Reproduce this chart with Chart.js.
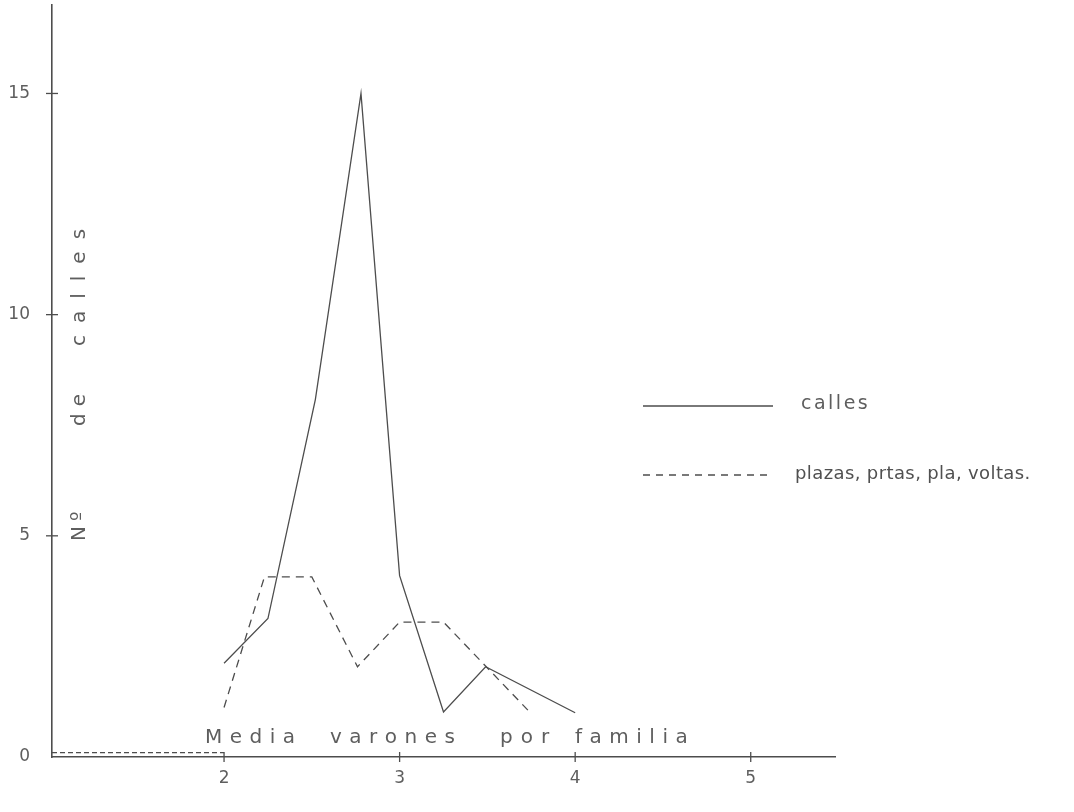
<!DOCTYPE html>
<html>
<head>
<meta charset="utf-8">
<script src="https://cdn.jsdelivr.net/npm/chart.js@4.4.1/dist/chart.umd.min.js"></script>
<style>
html,body{margin:0;padding:0;background:#fff;}
#wrap{width:1074px;height:812px;}
</style>
</head>
<body>
<div id="wrap"><canvas id="c" width="1074" height="812"></canvas></div>
<script>
// ---- data ----
const callesX = [2, 2.25, 2.52, 2.78, 3, 3.25, 3.49, 4];
const callesY = [2.12, 3.13, 8.08, 15, 4.1, 1.02, 2.04, 1.0];
const plazasX = [2, 2.23, 2.5, 2.76, 3, 3.25, 3.74];
const plazasY = [1.12, 4.07, 4.07, 2.04, 3.05, 3.05, 1.02];
const baseX = [1.02, 2];
const baseY = [0.1, 0.1];
const xTicks = [2, 3, 4, 5];
const yTicks = [0, 5, 10, 15];
const seriesLabels = ['calles', 'plazas, prtas, pla, voltas.'];
const xTitleWords = ['Media', 'varones', 'por', 'familia'];
const yTitleWords = ['Nº', 'de', 'calles'];

const INK = '#4d4d4d';
const TXT = '#5e5e5e';
const FONT = '"DejaVu Sans", sans-serif';

function pts(xs, ys){ return xs.map((x,i)=>({x:x, y:ys[i]})); }

function spacedText(ctx, str, x, y, spacing, spaceW){
  let cx = x;
  for (const ch of str){
    if (ch === ' '){ cx += spaceW; continue; }
    ctx.fillText(ch, cx, y);
    cx += ctx.measureText(ch).width + spacing;
  }
  return cx;
}

const decor = {
  id: 'decor',
  afterDraw(chart){
    const ctx = chart.ctx;
    const xs = chart.scales.x, ys = chart.scales.y;
    const area = chart.chartArea;
    ctx.save();
    // tick marks crossing the axes
    ctx.strokeStyle = INK; ctx.lineWidth = 1.3;
    xTicks.forEach(v=>{
      const px = xs.getPixelForValue(v);
      ctx.beginPath(); ctx.moveTo(px, area.bottom-5); ctx.lineTo(px, area.bottom+5); ctx.stroke();
    });
    yTicks.filter(v=>v>0).forEach(v=>{
      const py = ys.getPixelForValue(v);
      ctx.beginPath(); ctx.moveTo(area.left-6, py); ctx.lineTo(area.left+6, py); ctx.stroke();
    });
    // x title inside plot (letter-spaced words)
    ctx.fillStyle = TXT;
    ctx.font = '20px ' + FONT;
    ctx.textBaseline = 'middle';
    ctx.textAlign = 'left';
    const xStarts = [205, 330, 500, 575];
    const xSp = [7.5, 7.5, 8, 7.5];
    const ty = ys.getPixelForValue(0.43);
    xTitleWords.forEach((w,i)=> spacedText(ctx, w, xStarts[i], ty, xSp[i], 0));
    // y title rotated
    ctx.save();
    ctx.translate(80, ys.getPixelForValue(0));
    ctx.rotate(-Math.PI/2);
    ctx.font = '20px ' + FONT;
    const yStarts = [216, 331, 411];
    const ySp = [5, 7, 12];
    yTitleWords.forEach((w,i)=> spacedText(ctx, w, yStarts[i], 0, ySp[i], 0));
    ctx.restore();
    // legend
    const lx0 = 643, lx1 = 773;
    const ly = [406, 475];
    ctx.lineWidth = 1.3; ctx.strokeStyle = INK;
    ctx.beginPath(); ctx.moveTo(lx0, ly[0]); ctx.lineTo(lx1, ly[0]); ctx.stroke();
    ctx.setLineDash([7,6]);
    ctx.beginPath(); ctx.moveTo(lx0, ly[1]); ctx.lineTo(lx1, ly[1]); ctx.stroke();
    ctx.setLineDash([]);
    ctx.font = '19px ' + FONT;
    ctx.fillStyle = TXT;
    spacedText(ctx, seriesLabels[0], 801, ly[0]-2, 2.5, 8);
    ctx.font = '500 18px ' + FONT;
    ctx.fillStyle = '#505050';
    spacedText(ctx, seriesLabels[1], 795, ly[1]-1, 0.4, 6);
    ctx.restore();
  }
};

new Chart(document.getElementById('c'), {
  type: 'line',
  data: {
    datasets: [
      { label: seriesLabels[0], data: pts(callesX, callesY), borderColor: INK, borderWidth: 1.3, pointRadius: 0, tension: 0, fill: false },
      { label: seriesLabels[1], data: pts(plazasX, plazasY), borderColor: INK, borderWidth: 1.3, borderDash: [8,6], pointRadius: 0, tension: 0, fill: false },
      { label: 'base', data: pts(baseX, baseY), borderColor: INK, borderWidth: 1.2, borderDash: [5,3], pointRadius: 0, tension: 0, fill: false }
    ]
  },
  options: {
    responsive: false,
    animation: false,
    layout: { padding: { top: 5, right: 239, left: 0, bottom: 0 } },
    plugins: { legend: { display: false }, tooltip: { enabled: false } },
    scales: {
      x: {
        type: 'linear', min: 1.02, max: 5.48,
        afterBuildTicks: s => { s.ticks = xTicks.map(v=>({value:v})); },
        afterFit: s => { s.height = 55; s.paddingLeft = 0; s.paddingRight = 0; },
        grid: { display: false, drawTicks: false },
        border: { display: true, color: INK, width: 1.6 },
        ticks: { color: TXT, font: { family: FONT, size: 17 }, padding: 11, maxRotation: 0 }
      },
      y: {
        type: 'linear', min: 0, max: 17,
        afterBuildTicks: s => { s.ticks = yTicks.map(v=>({value:v})); },
        afterFit: s => { s.width = 52; s.paddingTop = 0; s.paddingBottom = 0; },
        grid: { display: false, drawTicks: false },
        border: { display: true, color: INK, width: 1.6 },
        ticks: { color: TXT, font: { family: FONT, size: 17 }, padding: 22 }
      }
    }
  },
  plugins: [decor]
});
</script>
</body>
</html>
